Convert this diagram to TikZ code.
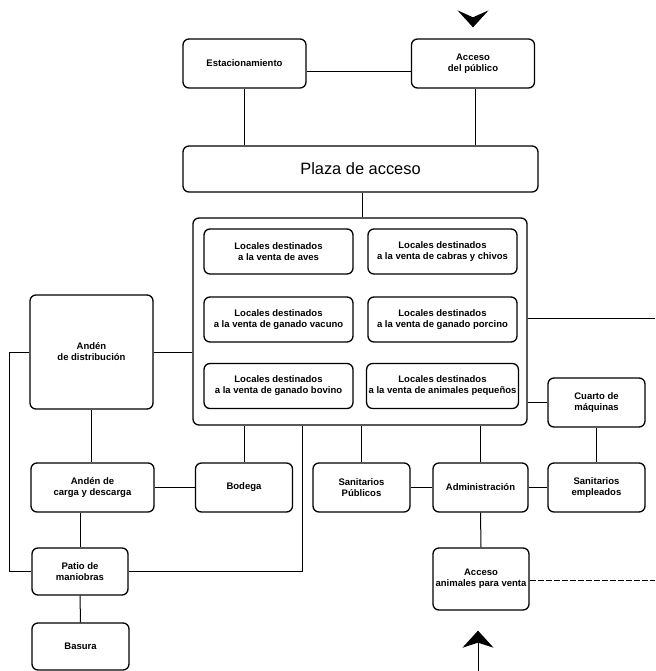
\documentclass[tikz,border=0pt]{standalone}
\usepackage{fontspec}
\setmainfont{Liberation Sans}
\usetikzlibrary{arrows.meta, positioning, calc}

\begin{document}
\begin{tikzpicture}[
  x=1pt, y=-1pt,
  box/.style    = {draw, rounded corners=6pt, line width=1.3pt,
                   align=center, inner sep=2pt,
                   font=\fontsize{9.5}{11}\selectfont\bfseries},
  small/.style  = {box, minimum width=97pt, minimum height=49pt},
  wide/.style   = {box, minimum width=123pt, minimum height=49pt},
  local/.style  = {box, minimum width=149pt, minimum height=45pt},
  link/.style   = {line width=1pt},
  dlink/.style  = {link, dash pattern=on 6pt off 2pt},
  entry/.style  = {line width=1pt, -{Stealth[length=17pt, width=31pt, inset=5pt]}},
]
\useasboundingbox (0,0) rectangle (655,671);

\node[wide]  (estac) at (244.5, 63.5) {Estacionamiento};
\node[wide]  (pub)   at (473, 63.5)   {Acceso\\del público};

\node[box, minimum width=355pt, minimum height=46pt,
      font=\fontsize{16.4}{18}\selectfont] (plaza) at (360.5, 169) {Plaza de acceso};

\node[box, minimum width=334pt, minimum height=207pt] (venta) at (360, 321.5) {};
\node[local] (aves)    at (278.5, 251.5) {Locales destinados\\a la venta de aves};
\node[local] (cabras)  at (442.5, 251.5) {Locales destinados\\a la venta de cabras y chivos};
\node[local] (vacuno)  at (278.5, 319.5) {Locales destinados\\a la venta de ganado vacuno};
\node[local] (porcino) at (442.5, 319.5) {Locales destinados\\a la venta de ganado porcino};
\node[local] (bovino)  at (278.5, 386)   {Locales destinados\\a la venta de ganado bovino};
\node[local] (peque)   at (442.5, 386)   {Locales destinados\\a la venta de animales pequeños};

\node[wide, minimum height=114pt] (dist) at (91.5, 352) {Andén\\de distribución};
\node[wide]  (carga)  at (92.5, 487.5)  {Andén de\\carga y descarga};
\node[small] (bodega) at (244, 487.5)   {Bodega};
\node[small] (sanpub) at (361.5, 487.5) {Sanitarios\\Públicos};
\node[small, minimum width=95pt] (admin) at (480.5, 487.5) {Administración};
\node[small] (sanemp) at (596.5, 487.5) {Sanitarios\\empleados};
\node[small] (cuarto) at (596.5, 402.5) {Cuarto de\\máquinas};
\node[small, minimum width=96pt, minimum height=47pt] (patio)  at (80, 571.5)   {Patio de\\maniobras};
\node[small, minimum height=47pt] (basura) at (80.5, 646.5) {Basura};
\node[small, minimum width=96pt, minimum height=62pt] (animal) at (481, 579) {Acceso\\animales para venta};

\coordinate (pubin)  at (473, 11);
\coordinate (animin) at (478, 671);
\coordinate (rimE)   at (655, 318);
\coordinate (rimA)   at (655, 580);
\coordinate (loop)   at ($(venta.south west)+(110,0)$);

\draw[link] ([yshift=-8pt]estac.east) -- ([yshift=-8pt]pub.west);
\draw[link] (estac.south) -- (estac.south |- plaza.north);
\draw[link] ([xshift=2pt]pub.south) -- ([xshift=2pt]pub.south |- plaza.north);
\draw[link] ([xshift=1.5pt]plaza.south) -- ([xshift=1.5pt]plaza.south |- venta.north);

\draw[link] (dist.east) -- (dist.east -| venta.west);
\draw[link] (dist.west) -- ++(-20,0) |- (patio.west);
\draw[link] (patio.east) -| (loop);
\draw[link] (dist.south) -- (dist.south |- carga.north);
\draw[link] (carga.east) -- (bodega.west);
\draw[link] (bodega.north) -- (bodega.north |- venta.south);
\draw[link] (patio.north) -- (patio.north |- carga.south);
\draw[link] (patio.south) -- (basura.north);

\draw[link] (sanpub.north) -- (sanpub.north |- venta.south);
\draw[link] (admin.north) -- (admin.north |- venta.south);
\draw[link] (sanpub.east) -- (admin.west);
\draw[link] (admin.east) -- (sanemp.west);
\draw[link] (cuarto.west) -- (cuarto.west -| venta.east);
\draw[link] (cuarto.south) -- (sanemp.north);
\draw[link] (admin.south) -- (animal.north);

\draw[link]  (venta.east |- rimE) -- (rimE);
\draw[dlink] (animal.east |- rimA) -- (rimA);

\draw[entry, -{Stealth[length=17pt, width=31pt, inset=7pt]},
      shorten <=7pt, shorten >=11pt] (pubin) -- (pub.north);
\draw[entry, shorten >=20pt] (animin) -- (animin |- animal.south);

\end{tikzpicture}
\end{document}
